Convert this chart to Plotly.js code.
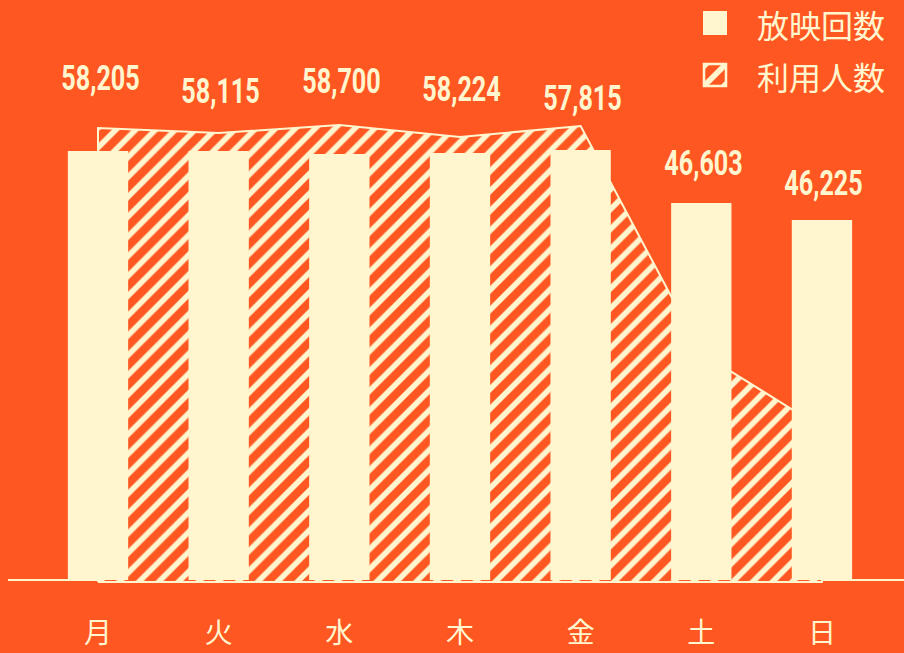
<!DOCTYPE html>
<html>
<head>
<meta charset="utf-8">
<script src="https://cdn.plot.ly/plotly-3.0.1.min.js"></script>
<style>
  html, body { margin: 0; padding: 0; background: #FF5722; }
  #chart { width: 904px; height: 653px; }
</style>
</head>
<body>
<div id="chart"></div>
<script>
// ---- data ----
const days = ['月', '火', '水', '木', '金', '土', '日'];
const screenings = [4290, 4290, 4260, 4270, 4300, 3770, 3600];      // 放映回数 (bars)
const visitors = [90800, 89800, 91400, 89000, 91200, 45800, 30800]; // 利用人数 (hatched area)
const labelTexts = ['58,205', '58,115', '58,700', '58,224', '57,815', '46,603', '46,225'];
const seriesNames = ['放映回数', '利用人数'];

// ---- styles ----
const BG = '#FF5722';
const CREAM = '#FFF6CF';
const labelShift = [73, 60, 73, 64, 52, 40, 37];
const W = 904, H = 653, ML = 8, MR = 0, MT = 0, MB = 69;
const PW = W - ML - MR, PH = H - MT - MB;
const px = v => (v - ML) / PW;          // pixel -> paper x
const py = v => 1 - (v - MT) / PH;      // pixel -> paper y

// closed polygon for the hatched area
const polyX = [days[0]].concat(days, [days[days.length - 1]], [days[0]]);
const polyY = [0].concat(visitors, [0], [0]);

const area = {
  type: 'scatter',
  name: seriesNames[1],
  x: polyX,
  y: polyY,
  xaxis: 'x',
  yaxis: 'y',
  mode: 'lines',
  fill: 'toself',
  fillcolor: BG,
  fillpattern: { shape: '/', fgcolor: CREAM, bgcolor: BG, size: 14, solidity: 0.4 },
  line: { color: CREAM, width: 2 },
  hoverinfo: 'skip'
};

const bars = {
  type: 'bar',
  name: seriesNames[0],
  x: days,
  y: screenings,
  xaxis: 'x',
  yaxis: 'y2',
  width: 0.5,
  marker: { color: CREAM, line: { width: 0 } }
};

const numFont = { family: 'Roboto, "DejaVu Sans Condensed", sans-serif', size: 35, color: CREAM, weight: 700 };
const annotations = days.map((d, i) => ({
  x: d,
  y: screenings[i],
  xref: 'x',
  yref: 'y2',
  text: labelTexts[i],
  showarrow: false,
  yanchor: 'middle',
  xanchor: 'center',
  yshift: labelShift[i],
  xshift: 2,
  font: numFont
}));

// legend (drawn as annotations + shapes so the swatches can match in size)
const legFont = { family: '"Noto Sans CJK JP", sans-serif', size: 32, color: CREAM };
annotations.push(
  { xref: 'paper', yref: 'paper', x: px(755), y: py(24), xanchor: 'left', yanchor: 'middle',
    text: seriesNames[0], showarrow: false, font: legFont },
  { xref: 'paper', yref: 'paper', x: px(755), y: py(76), xanchor: 'left', yanchor: 'middle',
    text: seriesNames[1], showarrow: false, font: legFont }
);

function pth(pts) {
  return 'M' + pts.map(p => px(p[0]) + ',' + py(p[1])).join('L') + 'Z';
}
const shapes = [
  { type: 'rect', xref: 'paper', yref: 'paper', x0: px(703), x1: px(727), y0: py(11), y1: py(35),
    fillcolor: CREAM, line: { width: 0 } },
  { type: 'rect', xref: 'paper', yref: 'paper', x0: px(704), x1: px(726), y0: py(64), y1: py(86),
    fillcolor: BG, line: { color: CREAM, width: 2.5 } },
  { type: 'path', xref: 'paper', yref: 'paper', path: pth([[704, 82], [722, 64], [726, 64], [726, 68], [708, 86], [704, 86]]),
    fillcolor: CREAM, line: { width: 0 } },
  { type: 'path', xref: 'paper', yref: 'paper', path: pth([[704, 64], [710, 64], [704, 70]]),
    fillcolor: CREAM, line: { width: 0 } },
  { type: 'path', xref: 'paper', yref: 'paper', path: pth([[726, 80], [726, 86], [720, 86]]),
    fillcolor: CREAM, line: { width: 0 } }
];

const layout = {
  width: W,
  height: H,
  paper_bgcolor: BG,
  plot_bgcolor: BG,
  margin: { l: ML, r: MR, t: MT, b: MB },
  showlegend: false,
  xaxis: {
    type: 'category',
    range: [-0.746, 6.68],
    showgrid: false,
    zeroline: false,
    showline: false,
    ticks: '',
    ticklabelstandoff: 30,
    tickfont: { family: '"Noto Sans CJK JP", sans-serif', size: 28, color: CREAM },
    fixedrange: true
  },
  yaxis: {
    range: [-400, 116400],
    showgrid: false,
    zeroline: false,
    showticklabels: false,
    fixedrange: true
  },
  yaxis2: {
    overlaying: 'y',
    range: [-40, 5800],
    showgrid: false,
    zeroline: true,
    zerolinecolor: CREAM,
    zerolinewidth: 1.5,
    showticklabels: false,
    fixedrange: true
  },
  annotations: annotations,
  shapes: shapes
};

Plotly.newPlot('chart', [area, bars], layout, { displayModeBar: false, staticPlot: true }).then(gd => {
  // narrow the number labels horizontally (condensed look)
  for (let i = 0; i < labelTexts.length; i++) {
    const g = gd.querySelector('.annotation[data-index="' + i + '"] text.annotation-text');
    if (!g) continue;
    const bb = g.getBBox();
    const cx = bb.x + bb.width / 2;
    const prev = g.getAttribute('transform') || '';
    g.setAttribute('transform', prev + ' translate(' + cx + ',0) scale(0.72,1) translate(' + (-cx) + ',0)');
  }
});
</script>
</body>
</html>
